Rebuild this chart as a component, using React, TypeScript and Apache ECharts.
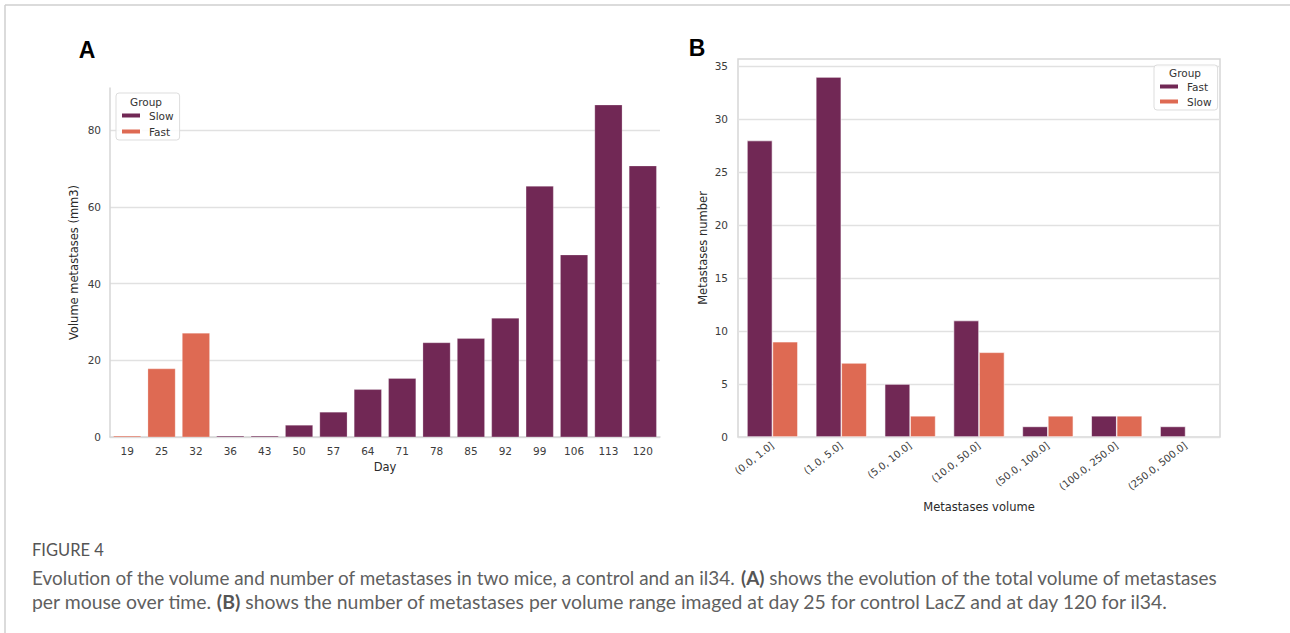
import React, { useEffect, useRef } from "react";
import * as echarts from "echarts";

// ---------- Data ----------
const days = ["19", "25", "32", "36", "43", "50", "57", "64", "71", "78", "85", "92", "99", "106", "113", "120"];
const slowVolume = [null, null, null, 0.3, 0.3, 3.1, 6.5, 12.4, 15.3, 24.6, 25.7, 31.0, 65.4, 47.5, 86.6, 70.7];
const fastVolume = [0.3, 17.8, 27.1, null, null, null, null, null, null, null, null, null, null, null, null, null];

const volumeBins = ["(0.0, 1.0]", "(1.0, 5.0]", "(5.0, 10.0]", "(10.0, 50.0]", "(50.0, 100.0]", "(100.0, 250.0]", "(250.0, 500.0]"];
const fastCounts = [28, 34, 5, 11, 1, 2, 1];
const slowCounts = [9, 7, 2, 8, 2, 2, null];

const captionTitle = "FIGURE 4";
const captionLine1a = "Evolution of the volume and number of metastases in two mice, a control and an il34. ";
const captionLine1b = "(A)";
const captionLine1c = " shows the evolution of the total volume of metastases";
const captionLine2a = "per mouse over time. ";
const captionLine2b = "(B)";
const captionLine2c = " shows the number of metastases per volume range imaged at day 25 for control LacZ and at day 120 for il34.";

// ---------- Styles ----------
const PURPLE = "#712855";
const ORANGE = "#de6a53";
const GRID = "#e1e1e1";
const SPINE = "#d6d6d6";
const TICK = "#3c3c3c";
const FONT = "DejaVu Sans";

export default function App() {
  const ref = useRef<HTMLDivElement>(null);

  useEffect(() => {
    document.body.style.margin = "0";
    if (!ref.current) return;
    const chart = echarts.init(ref.current, null, { renderer: "svg" });

    const tickLabel = { color: TICK, fontSize: 10.5, fontFamily: FONT };
    const nameStyle = { color: "#2a2a2a", fontSize: 11.5, fontFamily: FONT };

    chart.setOption({
      animation: false,
      backgroundColor: "#ffffff",
      grid: [
        { left: 110, top: 88, width: 550, height: 349 },
        { left: 738, top: 59, width: 482, height: 378, show: true, borderColor: SPINE, borderWidth: 1.5 },
      ],
      xAxis: [
        {
          type: "category",
          gridIndex: 0,
          data: days,
          axisLine: { show: true, lineStyle: { color: SPINE, width: 1.5 } },
          axisTick: { show: false },
          axisLabel: { ...tickLabel, margin: 8 },
          name: "Day",
          nameLocation: "middle",
          nameGap: 23,
          nameTextStyle: nameStyle,
          splitLine: { show: false },
        },
        {
          type: "category",
          gridIndex: 1,
          data: volumeBins,
          axisLine: { show: false },
          axisTick: { show: false },
          axisLabel: { ...tickLabel, fontSize: 10, rotate: 38, margin: 7 },
          name: "Metastases volume",
          nameLocation: "middle",
          nameGap: 64,
          nameTextStyle: nameStyle,
          splitLine: { show: false },
        },
      ],
      yAxis: [
        {
          type: "value",
          gridIndex: 0,
          min: 0,
          max: 91,
          interval: 20,
          axisLine: { show: true, lineStyle: { color: SPINE, width: 1.5 } },
          axisTick: { show: false },
          axisLabel: {
            ...tickLabel,
            margin: 9,
            formatter: (v: number) => (v % 20 === 0 ? String(v) : ""),
          },
          splitLine: { show: true, showMaxLine: false, lineStyle: { color: GRID, width: 1.3 } },
          name: "Volume metastases (mm3)",
          nameLocation: "middle",
          nameGap: 30,
          nameTextStyle: nameStyle,
        },
        {
          type: "value",
          gridIndex: 1,
          min: 0,
          max: 35.7,
          interval: 5,
          axisLine: { show: false },
          axisTick: { show: false },
          axisLabel: {
            ...tickLabel,
            margin: 10,
            formatter: (v: number) => (v % 5 === 0 ? String(v) : ""),
          },
          splitLine: { show: true, showMaxLine: false, lineStyle: { color: GRID, width: 1.3 } },
          name: "Metastases number",
          nameLocation: "middle",
          nameGap: 29,
          nameTextStyle: nameStyle,
        },
      ],
      legend: [
        {
          data: [
            { name: "Slow", itemStyle: { color: PURPLE } },
            { name: "Fast", itemStyle: { color: ORANGE } },
          ],
          orient: "vertical",
          left: 116,
          top: 93,
          padding: [17, 6, 3, 4],
          itemWidth: 20,
          itemHeight: 6,
          itemGap: 5,
          icon: "rect",
          selectedMode: false,
          borderColor: "#dddddd",
          borderWidth: 1,
          borderRadius: 3,
          backgroundColor: "rgba(255,255,255,0.85)",
          textStyle: { color: "#333", fontSize: 10.5, fontFamily: FONT, padding: [0, 0, 0, 3] },
        },
        {
          data: [
            { name: "Fast", itemStyle: { color: PURPLE } },
            { name: "Slow", itemStyle: { color: ORANGE } },
          ],
          orient: "vertical",
          left: 1154,
          top: 65,
          padding: [16, 6, 3, 4],
          itemWidth: 20,
          itemHeight: 6,
          itemGap: 4,
          icon: "rect",
          selectedMode: false,
          borderColor: "#dddddd",
          borderWidth: 1,
          borderRadius: 3,
          backgroundColor: "rgba(255,255,255,0.85)",
          textStyle: { color: "#333", fontSize: 10.5, fontFamily: FONT, padding: [0, 0, 0, 3] },
        },
      ],
      series: [
        {
          name: "Slow",
          type: "bar",
          xAxisIndex: 0,
          yAxisIndex: 0,
          data: slowVolume,
          barWidth: "80%",
          barGap: "-100%",
          itemStyle: { color: PURPLE, borderColor: "#ffffff", borderWidth: 0.25 },
        },
        {
          name: "Fast",
          type: "bar",
          xAxisIndex: 0,
          yAxisIndex: 0,
          data: fastVolume,
          barWidth: "80%",
          barGap: "-100%",
          itemStyle: { color: ORANGE, borderColor: "#ffffff", borderWidth: 0.25 },
        },
        {
          name: "Fast",
          type: "bar",
          xAxisIndex: 1,
          yAxisIndex: 1,
          data: fastCounts,
          barGap: "0%",
          barCategoryGap: "26%",
          itemStyle: { color: PURPLE, borderColor: "#ffffff", borderWidth: 0.6 },
        },
        {
          name: "Slow",
          type: "bar",
          xAxisIndex: 1,
          yAxisIndex: 1,
          data: slowCounts,
          barGap: "0%",
          barCategoryGap: "26%",
          itemStyle: { color: ORANGE, borderColor: "#ffffff", borderWidth: 0.6 },
        },
      ],
      graphic: [
        { type: "line", silent: true, shape: { x1: 5, y1: 5, x2: 1290, y2: 5 }, style: { stroke: "#cfcfcf", lineWidth: 1.5 } },
        { type: "line", silent: true, shape: { x1: 5, y1: 5, x2: 5, y2: 633 }, style: { stroke: "#cfcfcf", lineWidth: 1.5 } },
        {
          type: "text",
          x: 87,
          y: 50,
          style: { text: "A", fill: "#000", font: "bold 23px 'Liberation Sans', Arial, sans-serif", textAlign: "center", textVerticalAlign: "middle" },
        },
        {
          type: "text",
          x: 697,
          y: 48,
          style: { text: "B", fill: "#000", font: "bold 23px 'Liberation Sans', Arial, sans-serif", textAlign: "center", textVerticalAlign: "middle" },
        },
        {
          type: "text",
          x: 146,
          y: 102,
          z: 100,
          style: { text: "Group", fill: "#333", fontSize: 10.5, fontFamily: FONT, textAlign: "center", textVerticalAlign: "middle" },
        },
        {
          type: "text",
          x: 1185,
          y: 73,
          z: 100,
          style: { text: "Group", fill: "#333", fontSize: 10.5, fontFamily: FONT, textAlign: "center", textVerticalAlign: "middle" },
        },
        {
          type: "text",
          x: 32,
          y: 550,
          style: { text: captionTitle, fill: "#555", font: "16.5px Lato, 'Open Sans', sans-serif", textVerticalAlign: "middle" },
        },
        {
          type: "text",
          x: 32,
          y: 577,
          style: {
            text: captionLine1a + "{b|" + captionLine1b + "}" + captionLine1c,
            fill: "#5f5f5f",
            font: "18.9px Lato, 'Open Sans', sans-serif",
            textVerticalAlign: "middle",
            rich: { b: { fontWeight: "bold", fontSize: 18.9, fontFamily: "Lato", fill: "#555" } },
          },
        },
        {
          type: "text",
          x: 32,
          y: 601,
          style: {
            text: captionLine2a + "{b|" + captionLine2b + "}" + captionLine2c,
            fill: "#5f5f5f",
            font: "19.4px Lato, 'Open Sans', sans-serif",
            textVerticalAlign: "middle",
            rich: { b: { fontWeight: "bold", fontSize: 19.4, fontFamily: "Lato", fill: "#555" } },
          },
        },
      ],
    });

    return () => chart.dispose();
  }, []);

  return <div ref={ref} style={{ width: 1290, height: 633 }} />;
}
